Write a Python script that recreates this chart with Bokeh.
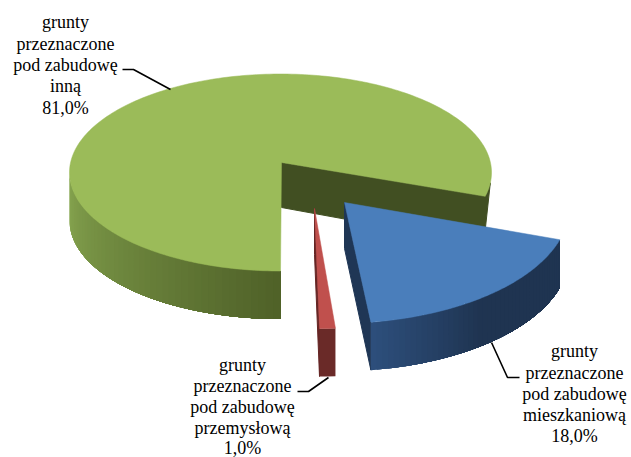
import numpy as np
from bokeh.plotting import figure
from bokeh.embed import file_html
from bokeh.resources import INLINE
from bokeh.core.properties import value

categories = ["inna", "przemysłowa", "mieszkaniowa"]
values = [81.0, 1.0, 18.0]
labels_inna = ["grunty", "przeznaczone", "pod zabudowę", "inną", "81,0%"]
labels_przem = ["grunty", "przeznaczone", "pod zabudowę", "przemysłową", "1,0%"]
labels_miesz = ["grunty", "przeznaczone", "pod zabudowę", "mieszkaniową", "18,0%"]

TOP = ["#9bbb59", "#c0504d", "#4a7ebb"]
DEPTH = 48

p = figure(width=631, height=457, x_range=(0, 631), y_range=(457, 0),
           output_backend="svg", toolbar_location=None, min_border=0)
p.axis.visible = False
p.grid.visible = False
p.outline_line_color = None
p.background_fill_color = "white"


def rim(cx, cy, rx, ry, t0, t1, n=120):
    t = np.radians(np.linspace(t0, t1, n))
    return cx + rx * np.sin(t), cy - ry * np.cos(t)


def lerp(a, b, f):
    a = np.array([int(a[i:i + 2], 16) for i in (1, 3, 5)])
    b = np.array([int(b[i:i + 2], 16) for i in (1, 3, 5)])
    c = (a + (b - a) * f).round().astype(int)
    return "#%02x%02x%02x" % tuple(c)


def strips(cx, cy, rx, ry, t0, t1, color_at, depth=DEPTH, n=45):
    # painter's order: each band reaches to the far end, so no seams show
    edges = np.linspace(t0, t1, n + 1)
    for i in range(n):
        x, y = rim(cx, cy, rx, ry, edges[i], t1, max(3, (n - i) * 2))
        col = color_at((i + 0.5) / n)
        p.patch(list(x) + list(x[::-1]), list(y) + list((y + depth)[::-1]),
                fill_color=col, line_color=None)


sw_inna, sw_przem, sw_miesz = [v * 3.6 for v in values]

# ---- green slice (81 %), runs clockwise from 6 o'clock
g = dict(cx=280, cy=172, rx=211, ry=98.5)
g_end = 180 + sw_inna * 0.974
ax, ay = 281, 162
tx, ty = rim(**g, t0=g_end, t1=g_end, n=1)
# inner wall, with the short outer wall beside the tip
ox, oy = rim(**g, t0=g_end, t1=g_end - 8, n=6)
p.patch([ax] + list(ox) + [ox[-1] - 5, tx[0] - 2, ax],
        [ay] + list(oy) + [oy[-1] + 46, ty[0] + DEPTH, ay + 45],
        fill_color="#414f22", line_color="#414f22")
strips(**g, t0=270, t1=180, color_at=lambda f: lerp("#87a650", "#4f6128", f))
x, y = rim(**g, t0=180, t1=g_end, n=240)
p.patch([ax] + list(x), [ay] + list(y), fill_color=TOP[0], line_color=TOP[0], line_width=0.5)

# ---- red slice (1 %)
r = dict(cx=319, cy=208, rx=254, ry=120)
x, y = rim(**r, t0=180 - sw_przem, t1=180, n=6)
ax, ay = 314, 208
p.patch([ax, ax, x[-1], x[-1]], [ay, ay + 46, y[-1] + DEPTH, y[-1]], fill_color="#652524", line_color="#652524")
strips(**r, t0=180, t1=180 - sw_przem, color_at=lambda f: "#6a2a28", n=1)
p.patch([ax] + list(x), [ay] + list(y), fill_color=TOP[1], line_color=TOP[1], line_width=0.5)

# ---- blue slice (18 %)
b = dict(cx=335, cy=206, rx=234, ry=117)
b0 = 106.5
b1 = b0 + sw_miesz
x, y = rim(**b, t0=b0, t1=b1, n=80)
ax, ay = 344, 202
p.patch([ax, ax, x[-1], x[-1]], [ay, ay + 46, y[-1] + DEPTH, y[-1]], fill_color="#1f3655", line_color="#1f3655")
strips(**b, t0=b1, t1=b0, color_at=lambda f: lerp("#2d4f7c", "#1f3451", min(1, f * 2.2)))
p.patch([ax] + list(x), [ay] + list(y), fill_color=TOP[2], line_color=TOP[2], line_width=0.5)

# ---- leader lines
for lx, ly in [([122, 133, 170], [69, 69, 89]),
               ([491, 507, 519], [342, 377, 377]),
               ([328, 308, 297], [377, 391, 391])]:
    p.line(lx, ly, line_color="black", line_width=1.6)

# ---- labels
for lines, cx, ys in [(labels_inna, 65, [21, 43, 64, 85, 107]),
                      (labels_przem, 242, [364, 385, 406, 427, 447]),
                      (labels_miesz, 574, [350, 372, 393, 414, 435])]:
    p.text([cx] * 5, ys, text=lines, text_font=value("Liberation Serif"), text_font_size="18px",
           text_align="center", text_baseline="middle", text_color="black")

open("out.html", "w").write(file_html(p, INLINE))
